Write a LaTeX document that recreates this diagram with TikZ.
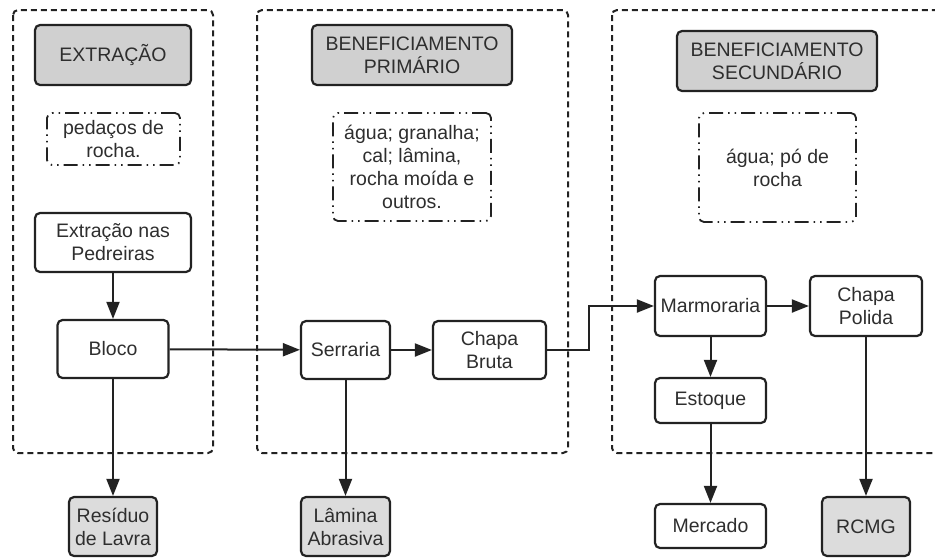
\documentclass[tikz,border=0pt]{standalone}
\usepackage{fontspec}
\setmainfont{Liberation Sans}
\usetikzlibrary{arrows.meta}
\definecolor{txt}{HTML}{2E2E2E}
\definecolor{edge}{HTML}{222222}
\definecolor{titlefill}{HTML}{D0D0D0}
\definecolor{outfill}{HTML}{DCDCDC}
\tikzset{
  box/.style={draw=edge, line width=2.2pt, rounded corners=5pt, fill=white, inner sep=0pt,
    align=center, text=txt, font=\fontsize{19.5}{23}\selectfont},
  titlebox/.style={box, fill=titlefill},
  outbox/.style={box, fill=outfill},
  inbox/.style={box, line width=1.8pt, dash pattern=on 14pt off 5pt on 1.5pt off 5pt on 1.5pt off 5pt},
  group/.style={draw=edge, line width=2pt, rounded corners=5pt, dash pattern=on 6pt off 4pt},
  flow/.style={draw=edge, line width=2pt, -{Triangle[length=17pt,width=13pt]}},
}
\begin{document}
\begin{tikzpicture}[x=1pt,y=-1pt]
\useasboundingbox (0,0) rectangle (935,558);
\clip (0,0) rectangle (935,558);
\fill[white] (0,0) rectangle (935,558);
% groups
\draw[group] (13,10) rectangle (213,453);
\draw[group] (257,10) rectangle (568,453);
\draw[group] (612,10) rectangle (948,453);
% titles
\node[titlebox, minimum width=156pt, minimum height=60pt] (t1) at (113,55) {EXTRAÇÃO};
\node[titlebox, minimum width=200pt, minimum height=60pt] (t2) at (412,55) {BENEFICIAMENTO\\PRIMÁRIO};
\node[titlebox, minimum width=200pt, minimum height=60pt] (t3) at (777,61) {BENEFICIAMENTO\\SECUNDÁRIO};
% inputs
\node[inbox, minimum width=133pt, minimum height=52pt] (i1) at (113.5,139) {pedaços de\\rocha.};
\node[inbox, minimum width=158pt, minimum height=108pt] (i2) at (412,167) {água; granalha;\\cal; lâmina,\\rocha moída e\\outros.};
\node[inbox, minimum width=157pt, minimum height=109pt] (i3) at (777.5,167.5) {água; pó de\\rocha};
% process
\node[box, minimum width=156pt, minimum height=59pt] (ext) at (113,242.5) {Extração nas\\Pedreiras};
\node[box, minimum width=111pt, minimum height=58pt] (blo) at (113,349) {Bloco};
\node[box, minimum width=89pt, minimum height=58pt] (ser) at (345.5,350) {Serraria};
\node[box, minimum width=113pt, minimum height=58pt] (cb) at (489.5,350) {Chapa\\Bruta};
\node[box, minimum width=111pt, minimum height=60pt] (mar) at (710.5,306) {Marmoraria};
\node[box, minimum width=112pt, minimum height=60pt] (cp) at (866,306) {Chapa\\Polida};
\node[box, minimum width=111pt, minimum height=45pt] (est) at (710.5,400.5) {Estoque};
\node[box, minimum width=111pt, minimum height=44pt] (mer) at (710.5,526) {Mercado};
% outputs
\node[outbox, minimum width=88pt, minimum height=59pt] (res) at (113,526.5) {Resíduo\\de Lavra};
\node[outbox, minimum width=89pt, minimum height=59pt] (lam) at (345.5,526.5) {Lâmina\\Abrasiva};
\node[outbox, minimum width=88pt, minimum height=59pt] (rcmg) at (866,526.5) {RCMG};
% connectors
\draw[flow] (ext) -- (blo);
\draw[flow] (blo) -- (res);
\draw[flow] (blo) -- (ser);
\draw[flow] (ser) -- (cb);
\draw[flow] (ser) -- (lam);
\coordinate (k1) at (589,350);
\coordinate (k2) at (589,306);
\draw[flow] (cb.east) -- (k1) -- (k2) -- (mar.west);
\draw[flow] (mar) -- (cp);
\draw[flow] (mar) -- (est);
\draw[flow] (est) -- (mer);
\draw[flow] (cp) -- (rcmg);
\end{tikzpicture}
\end{document}
